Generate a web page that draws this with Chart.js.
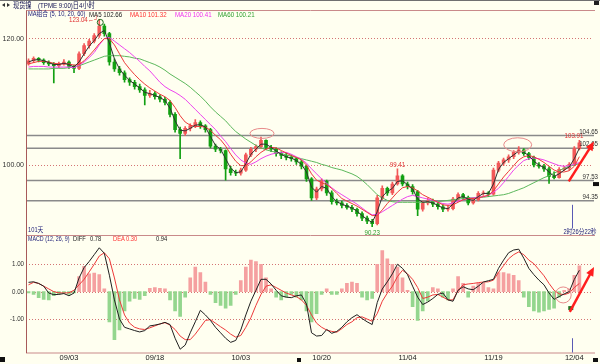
<!DOCTYPE html>
<html>
<head>
<meta charset="utf-8">
<script src="https://cdn.jsdelivr.net/npm/chart.js@4.4.0/dist/chart.umd.min.js"></script>
<style>
html,body{margin:0;padding:0;background:#fffff0;}
canvas{display:block;}
</style>
</head>
<body>
<canvas id="myChart" width="600" height="364"></canvas>
<script>
// 4h candles, one slot per bar
var nSlots = 112;
var categories = [];
for (var k = 0; k < nSlots; k++) categories.push(String(k));

var tickIdx  = [8, 25, 42, 58, 75, 92, 108];
var tickText = ['09/03', '09/18', '10/03', '10/20', '11/04', '11/19', '12/04'];

var openP = [
 116.0,116.5,116.9,116.6,116.2,116.0,115.7,116.0,116.3,115.6,
 115.3,117.6,118.9,119.6,120.5,122.0,120.8,116.3,115.2,114.6,
 113.5,113.1,112.4,111.9,111.0,111.3,110.8,110.4,109.9,108.0,
 105.6,105.0,105.8,106.2,106.7,106.2,105.6,103.0,102.5,102.3,
 99.4,98.8,98.7,99.2,101.6,102.5,102.9,103.9,102.8,102.5,
 101.8,101.5,101.2,101.0,100.5,99.8,97.8,94.8,96.2,97.4,
 95.6,94.2,94.0,93.6,93.3,93.0,92.3,91.6,91.1,90.7,
 94.8,96.3,95.6,97.0,98.3,97.0,96.6,95.8,93.0,94.0,
 94.3,93.8,93.4,93.0,93.1,94.6,95.3,94.9,94.0,94.5,
 95.5,95.6,95.4,99.2,100.3,100.8,101.3,102.0,102.4,101.8,
 101.2,100.0,99.8,99.4,98.2,98.0,99.3,99.5,100.1,102.6];
var highP = [
 116.8,117.1,117.0,116.8,116.5,116.2,116.3,116.7,116.5,115.8,
 117.9,119.2,119.9,120.8,123.04,122.3,121.0,116.8,115.6,114.9,
 113.8,113.4,112.8,112.2,111.8,111.6,111.1,110.7,110.2,108.3,
 106.0,106.1,106.5,107.2,107.0,106.4,105.8,103.3,102.8,102.4,
 99.8,99.2,99.5,101.9,102.8,103.2,104.4,104.0,103.1,102.7,
 102.1,101.9,101.6,101.2,100.8,100.0,98.0,96.5,97.8,97.6,
 95.9,94.6,94.3,93.9,93.6,93.2,92.6,91.9,91.4,95.2,
 96.7,96.5,97.3,99.41,98.5,97.3,96.9,96.0,94.3,94.8,
 94.6,94.1,93.7,93.5,94.9,95.6,95.5,95.1,94.8,95.8,
 95.9,95.8,99.5,100.6,101.1,101.6,102.3,102.9,102.6,102.0,
 101.4,100.4,100.1,99.7,98.9,99.6,99.8,100.4,102.9,103.91];
var lowP = [
 115.8,116.2,116.3,115.9,115.7,113.0,115.4,115.8,115.3,114.6,
 115.1,117.3,118.5,119.3,120.2,120.4,115.8,114.8,114.2,113.1,
 112.6,112.0,111.5,109.5,110.7,110.4,110.0,109.5,107.6,105.2,
 101.0,104.7,105.4,105.9,105.8,105.2,102.7,102.1,101.9,97.6,
 98.4,98.3,98.4,99.0,101.3,102.1,102.6,102.5,102.1,101.4,
 101.0,100.8,100.6,100.1,99.4,97.4,94.4,94.5,95.9,95.2,
 93.8,93.7,93.2,93.0,92.6,91.9,91.2,90.7,90.23,90.5,
 94.5,95.2,95.3,96.8,96.7,96.2,95.4,92.0,92.7,93.7,
 93.4,93.0,92.6,92.7,92.9,94.3,94.5,93.7,93.8,94.3,
 95.2,95.0,95.2,98.9,99.9,100.4,101.0,101.7,101.5,100.9,
 99.7,99.5,99.0,97.1,97.8,97.9,99.1,99.2,99.9,102.4];
var closeP = [
 116.5,116.9,116.6,116.2,116.0,115.7,116.0,116.3,115.6,115.3,
 117.6,118.9,119.6,120.5,122.0,120.8,116.3,115.2,114.6,113.5,
 113.1,112.4,111.9,111.0,111.3,110.8,110.4,109.9,108.0,105.6,
 105.0,105.8,106.2,106.7,106.2,105.6,103.0,102.5,102.3,99.4,
 98.8,98.7,99.2,101.6,102.5,102.9,103.9,102.8,102.5,101.8,
 101.5,101.2,101.0,100.5,99.8,97.8,94.8,96.2,97.4,95.6,
 94.2,94.0,93.6,93.3,93.0,92.3,91.6,91.1,90.7,94.8,
 96.3,95.6,97.0,98.3,97.0,96.6,95.8,93.0,94.0,94.3,
 93.8,93.4,93.0,93.1,94.6,95.3,94.9,94.0,94.5,95.5,
 95.6,95.4,99.2,100.3,100.8,101.3,102.0,102.4,101.8,101.2,
 100.0,99.8,99.4,98.2,98.0,99.3,99.5,100.1,102.6,103.5];

var ma5 = [
 116.3,116.6,116.7,116.5,116.2,115.9,115.9,116.1,115.9,115.5,
 116.3,117.6,118.8,119.7,120.8,121.3,119.3,116.8,115.2,114.2,
 113.4,112.8,112.2,111.5,111.3,111.0,110.7,110.2,109.0,107.0,
 105.5,105.4,105.8,106.3,106.4,106.0,104.5,103.1,102.5,101.0,
 99.5,98.8,98.9,100.2,101.7,102.5,103.3,103.3,102.8,102.2,
 101.7,101.3,101.1,100.7,100.1,98.9,96.5,95.7,96.6,96.3,
 95.0,94.2,93.8,93.5,93.2,92.7,92.0,91.4,90.9,92.6,
 95.0,95.8,96.3,97.4,97.5,96.9,96.2,94.6,94.1,94.2,
 94.0,93.6,93.2,93.1,93.8,94.8,95.0,94.6,94.4,95.0,
 95.5,95.5,97.0,99.3,100.4,101.0,101.6,102.2,102.0,101.5,
 100.6,100.0,99.6,98.9,98.2,98.6,99.2,99.7,101.0,102.66];
var ma10 = [
 116.0,116.2,116.4,116.4,116.3,116.1,116.0,116.0,116.0,115.8,
 115.9,116.5,117.3,118.2,119.2,120.0,120.0,119.0,117.6,116.2,
 115.2,114.3,113.5,112.8,112.2,111.7,111.2,110.8,110.2,109.1,
 107.8,106.8,106.3,106.1,106.1,106.0,105.5,104.7,104.0,103.0,
 101.7,100.6,99.9,99.9,100.5,101.3,102.0,102.5,102.8,102.7,
 102.3,101.9,101.5,101.2,100.8,100.0,98.6,97.6,97.2,96.9,
 96.3,95.5,94.7,94.3,93.9,93.5,93.0,92.5,92.0,92.0,
 92.9,93.9,94.8,95.7,96.4,96.6,96.4,95.9,95.3,94.9,
 94.5,94.1,93.7,93.6,93.7,94.1,94.5,94.7,94.7,94.8,
 95.0,95.2,95.9,97.0,98.1,99.0,99.9,100.8,101.3,101.5,
 101.3,100.9,100.4,99.8,99.2,98.9,98.9,99.1,99.8,101.32];
var ma20 = [
 115.5,115.6,115.6,115.6,115.5,115.5,115.5,115.5,115.5,115.4,
 115.8,116.3,117.0,117.8,119.0,120.0,120.2,119.6,119.0,118.4,
 117.8,117.1,116.4,115.6,114.9,114.0,113.1,112.4,111.9,111.5,
 111.0,110.4,109.6,108.8,108.0,107.2,106.4,105.6,104.6,103.7,
 102.6,101.6,100.8,100.3,100.1,100.5,101.0,101.4,101.7,101.9,
 102.0,102.0,101.7,101.3,100.9,100.3,99.4,98.6,97.8,97.1,
 96.4,95.8,95.3,94.8,94.3,93.8,93.2,92.6,92.1,92.2,
 92.6,93.1,93.6,94.1,94.6,95.0,95.2,95.0,94.8,94.6,
 94.4,94.1,93.9,93.8,94.0,94.3,94.5,94.7,94.8,94.9,
 95.0,95.2,95.7,96.3,97.2,98.2,99.2,100.0,100.7,101.0,
 101.1,101.0,100.8,100.5,100.2,99.9,99.8,99.9,100.1,100.41];
var ma60 = [
 115.2,115.2,115.2,115.2,115.2,115.3,115.3,115.3,115.4,115.5,
 115.7,116.0,116.3,116.6,116.9,117.2,117.3,117.3,117.3,117.2,
 117.1,116.9,116.8,116.5,116.2,115.9,115.5,115.0,114.4,113.9,
 113.4,112.9,112.3,111.6,110.9,110.1,109.2,108.4,107.7,107.0,
 106.1,105.3,104.7,104.1,103.6,103.1,102.7,102.4,102.2,102.0,
 101.8,101.6,101.4,101.2,101.0,100.8,100.6,100.4,100.1,99.9,
 99.6,99.4,99.2,98.9,98.6,98.2,97.6,96.9,96.1,95.3,
 94.8,94.4,94.2,94.1,94.1,94.1,94.1,94.1,94.1,94.1,
 94.2,94.2,94.3,94.4,94.5,94.6,94.7,94.8,94.8,94.9,
 94.9,95.0,95.1,95.2,95.3,95.5,95.8,96.1,96.4,96.8,
 97.2,97.6,98.0,98.3,98.7,99.1,99.5,99.8,100.0,100.21];

var diff = [
 0.34,0.36,0.30,0.20,-0.05,-0.11,-0.10,-0.07,-0.15,-0.05,
 0.50,0.88,1.10,1.35,1.60,1.40,0.60,-0.30,-1.00,-1.30,
 -1.36,-1.42,-1.47,-1.42,-1.25,-1.22,-1.18,-1.12,-1.20,-1.70,
 -2.10,-1.95,-1.50,-1.10,-0.68,-0.85,-1.05,-1.30,-1.50,-1.70,
 -1.85,-1.78,-1.40,-0.85,-0.35,0.05,0.45,0.45,0.28,0.05,
 -0.15,-0.20,-0.22,-0.15,-0.12,-0.45,-1.50,-1.62,-1.60,-1.38,
 -1.52,-1.45,-1.30,-1.10,-0.95,-0.84,-0.98,-1.10,-1.20,-0.40,
 0.10,0.36,0.65,1.00,0.85,0.62,0.20,-0.20,-0.47,-0.38,
 -0.25,-0.10,-0.05,-0.30,-0.35,0.05,0.18,0.10,0.07,0.20,
 0.35,0.40,0.45,0.85,1.15,1.42,1.52,1.55,1.22,0.85,
 0.62,0.42,0.25,-0.05,-0.28,-0.18,-0.08,0.00,0.45,0.78];
var dea = [
 0.25,0.34,0.30,0.20,0.10,0.00,-0.04,-0.05,-0.04,0.05,
 0.25,0.45,0.72,1.00,1.30,1.42,1.20,0.50,-0.30,-0.85,
 -1.15,-1.30,-1.36,-1.38,-1.32,-1.25,-1.18,-1.13,-1.22,-1.38,
 -1.62,-1.75,-1.75,-1.55,-1.30,-1.05,-1.02,-1.15,-1.28,-1.40,
 -1.55,-1.66,-1.60,-1.30,-0.95,-0.50,-0.10,0.20,0.25,0.15,
 0.05,-0.05,-0.12,-0.18,-0.30,-0.50,-0.85,-1.15,-1.30,-1.40,
 -1.45,-1.48,-1.35,-1.20,-1.10,-0.95,-0.92,-1.00,-1.08,-0.80,
 -0.35,-0.05,0.20,0.55,0.78,0.65,0.45,0.15,-0.25,-0.20,
 -0.12,-0.10,-0.20,-0.30,-0.30,0.05,0.25,0.28,0.30,0.33,
 0.35,0.36,0.42,0.70,0.95,1.20,1.35,1.45,1.35,1.15,
 1.02,0.80,0.58,0.30,0.05,-0.08,-0.11,-0.05,0.15,0.30];
var macdHist = [
 -0.05,-0.10,-0.22,-0.28,-0.30,-0.15,-0.08,-0.05,-0.10,-0.05,
 0.55,0.92,0.65,0.68,0.62,0.10,-1.10,-1.75,-1.40,-0.70,
 -0.35,-0.25,-0.28,-0.15,0.12,0.15,0.12,0.10,-0.30,-0.70,
 -0.90,-0.20,0.50,0.90,0.70,0.35,-0.10,-0.40,-0.50,-0.60,
 -0.50,-0.10,0.40,0.90,1.15,1.10,1.00,0.50,0.10,-0.20,
 -0.30,-0.20,-0.10,-0.20,-0.30,-0.70,-1.10,-0.80,-0.10,0.10,
 -0.10,-0.10,0.10,0.30,0.35,0.30,-0.20,-0.30,-0.25,1.00,
 1.50,1.20,1.00,0.90,0.50,0.05,-0.55,-1.05,-0.70,-0.35,
 0.15,0.10,-0.20,-0.30,0.10,0.55,0.30,-0.20,0.20,0.30,
 0.30,0.15,0.10,0.70,0.70,0.65,0.60,0.40,-0.20,-0.55,
 -0.70,-0.75,-0.70,-0.65,-0.60,-0.20,0.05,0.10,0.60,0.94];

var priceTicks = [120, 100];
var macdTicks = [1, 0, -1];
var levels = [104.65, 102.65, 97.53, 94.35];

var FONT = '"Liberation Sans", "Noto Sans CJK SC", sans-serif';
var UP = '#f25858', DOWN = '#12a012';

var wicks = [], bodies = [], candleColors = [];
for (var i = 0; i < closeP.length; i++) {
    wicks.push([lowP[i], highP[i]]);
    bodies.push([openP[i], closeP[i]]);
    candleColors.push(closeP[i] >= openP[i] ? UP : DOWN);
}
var histColors = macdHist.map(function (v) { return v >= 0 ? '#f5a0a0' : '#94d68e'; });

// text squeezed horizontally, the original uses a narrow bitmap font
function txt(c, s, x, y, color, align, size) {
    c.save();
    c.font = (size || 7) + 'px ' + FONT;
    c.fillStyle = color;
    c.textAlign = align || 'left';
    c.textBaseline = 'middle';
    c.translate(x, y);
    c.scale(0.82, 1);
    c.fillText(s, 0, 0);
    c.restore();
}
function seg(c, x1, y1, x2, y2) {
    c.beginPath(); c.moveTo(x1, y1); c.lineTo(x2, y2); c.stroke();
}
function arrow(c, x1, y1, x2, y2) {
    var ang = Math.atan2(y2 - y1, x2 - x1);
    c.strokeStyle = '#ff1e1e'; c.fillStyle = '#ff1e1e'; c.lineWidth = 2.5;
    seg(c, x1, y1, x2 - 6 * Math.cos(ang), y2 - 6 * Math.sin(ang));
    c.beginPath();
    c.moveTo(x2, y2);
    c.lineTo(x2 - 9 * Math.cos(ang) + 4 * Math.sin(ang), y2 - 9 * Math.sin(ang) - 4 * Math.cos(ang));
    c.lineTo(x2 - 9 * Math.cos(ang) - 4 * Math.sin(ang), y2 - 9 * Math.sin(ang) + 4 * Math.cos(ang));
    c.closePath(); c.fill();
}

var SPLIT_Y = 235.5;

var overlay = {
    id: 'overlay',
    beforeDraw: function (chart) {
        var c = chart.ctx;
        c.save();
        c.fillStyle = '#fffff0';
        c.fillRect(0, 0, chart.width, chart.height);
        c.restore();
    },
    beforeDatasetsDraw: function (chart) {
        var c = chart.ctx, a = chart.chartArea, yP = chart.scales.y, yM = chart.scales.yM;
        c.save();
        c.strokeStyle = '#8a8a8a'; c.lineWidth = 1.5;
        levels.forEach(function (v) {
            var y = yP.getPixelForValue(v);
            seg(c, a.left, y, a.right + 2, y);
        });
        c.strokeStyle = '#d47474'; c.lineWidth = 1; c.setLineDash([1, 2]);
        macdTicks.forEach(function (v) {
            var y = Math.round(yM.getPixelForValue(v)) + 0.5;
            seg(c, a.left, y, a.right, y);
        });
        c.setLineDash([]);
        macdTicks.forEach(function (v) {
            txt(c, v.toFixed(2), 24, yM.getPixelForValue(v), '#303030', 'right', 7.5);
        });
        c.restore();
    },
    afterDatasetsDraw: function (chart) {
        var c = chart.ctx, a = chart.chartArea, x = chart.scales.x, yP = chart.scales.y, yM = chart.scales.yM;
        c.save();
        // frame
        c.lineWidth = 1;
        c.strokeStyle = '#707070'; seg(c, 0, 0.5, 600, 0.5);
        c.strokeStyle = '#c98a8a';
        seg(c, a.left, 10.5, 595, 10.5);
        seg(c, a.left, SPLIT_Y, 595, SPLIT_Y);
        seg(c, a.left, a.bottom + 0.5, 595, a.bottom + 0.5);
        c.strokeStyle = '#a85a5a';
        seg(c, a.left + 0.5, 10.5, a.left + 0.5, a.bottom + 0.5);

        // title bar
        c.fillStyle = '#303030';
        c.beginPath(); c.moveTo(2, 5); c.lineTo(5, 3); c.lineTo(5, 7); c.closePath(); c.fill();
        c.beginPath(); c.moveTo(10, 5); c.lineTo(7, 3); c.lineTo(7, 7); c.closePath(); c.fill();
        txt(c, '现货镍', 13, 5.5, '#101050', 'left', 7.5);
        txt(c, '(TPME 9:00)日4小时', 38, 5.5, '#101050', 'left', 7.5);
        c.fillStyle = '#202020'; c.fillRect(594, 1, 5, 4);

        // MA legend
        txt(c, 'MA组合 (5, 10, 20, 60)', 28, 14.5, '#23237a', 'left', 7);
        txt(c, 'MA5 102.66', 89, 14.5, '#202020', 'left', 7.5);
        txt(c, 'MA10 101.32', 130, 14.5, '#ff3030', 'left', 7.5);
        txt(c, 'MA20 100.41', 175, 14.5, '#f030f0', 'left', 7.5);
        txt(c, 'MA60 100.21', 218, 14.5, '#30a030', 'left', 7.5);

        // extreme marks
        var pk = 14;
        txt(c, '123.04\u2190\u2518', x.getPixelForValue(pk) - 1, yP.getPixelForValue(highP[pk]) + 1, '#e03030', 'right', 7.5);
        c.strokeStyle = '#1a6a1a'; c.lineWidth = 1;
        c.beginPath(); c.arc(x.getPixelForValue(pk) + 1, yP.getPixelForValue(highP[pk]) + 3, 3, 0, Math.PI * 2); c.stroke();
        txt(c, '90.23', x.getPixelForValue(68), yP.getPixelForValue(lowP[68]) + 6, '#2a9a2a', 'center', 7.5);
        txt(c, '99.41', x.getPixelForValue(73), yP.getPixelForValue(highP[73]) - 4, '#e03030', 'center', 7.5);
        txt(c, '103.91', x.getPixelForValue(109) + 4, yP.getPixelForValue(highP[109]) - 4, '#e03030', 'right', 7.5);

        // level labels
        levels.forEach(function (v) {
            txt(c, v.toFixed(2), 598, yP.getPixelForValue(v) - 4, '#303030', 'right', 7.5);
        });
        c.fillStyle = '#101010'; c.fillRect(593, yP.getPixelForValue(97.3), 6, 4);

        // ellipses
        c.strokeStyle = '#e88a8a'; c.lineWidth = 1;
        c.beginPath(); c.ellipse(x.getPixelForValue(46.2), yP.getPixelForValue(105.0), 12, 5, 0, 0, Math.PI * 2); c.stroke();
        c.beginPath(); c.ellipse(x.getPixelForValue(96.8), yP.getPixelForValue(103.2), 14, 7, 0, 0, Math.PI * 2); c.stroke();
        c.beginPath(); c.arc(x.getPixelForValue(105.8), yM.getPixelForValue(-0.12), 8, 0, Math.PI * 2); c.stroke();
        c.fillStyle = '#207020'; c.fillRect(x.getPixelForValue(107.2) - 2, yM.getPixelForValue(-0.6) - 2, 5, 4);

        // arrows
        arrow(c, x.getPixelForValue(106.9), yP.getPixelForValue(97.4), x.getPixelForValue(111.9), yP.getPixelForValue(103.7));
        arrow(c, x.getPixelForValue(107.1), yM.getPixelForValue(-0.74), x.getPixelForValue(111.9), yM.getPixelForValue(0.9));

        // cursor
        var cx = Math.round(x.getPixelForValue(107.6)) + 0.5;
        c.strokeStyle = '#5a5ab4'; c.lineWidth = 1;
        seg(c, cx, yP.getPixelForValue(93.7), cx, SPLIT_Y - 7);
        seg(c, cx, yM.getPixelForValue(-1.7), cx, a.bottom);
        txt(c, '2时26分22秒', 580, SPLIT_Y - 3, '#23237a', 'center', 7);

        // panel captions
        txt(c, '101天', 28, SPLIT_Y - 5, '#23237a', 'left', 7);
        txt(c, 'MACD (12, 26, 9)', 28, SPLIT_Y + 4, '#23237a', 'left', 6.5);
        txt(c, 'DIFF', 73, SPLIT_Y + 4, '#202020', 'left', 7);
        txt(c, '0.78', 90, SPLIT_Y + 4, '#202020', 'left', 7);
        txt(c, 'DEA', 113, SPLIT_Y + 4, '#ff3030', 'left', 7);
        txt(c, '0.30', 126, SPLIT_Y + 4, '#ff3030', 'left', 7);
        txt(c, '0.94', 156, SPLIT_Y + 4, '#202020', 'left', 7);

        // scroll markers
        c.fillStyle = '#101010';
        c.fillRect(0, 357, 5, 5);
        c.fillRect(297, 358, 4, 4);
        c.fillRect(593, 358, 5, 4);
        c.restore();
    }
};

var ctx = document.getElementById('myChart').getContext('2d');

var mychart = new Chart(ctx, {
    type: 'bar',
    data: {
        labels: categories,
        datasets: [
            { type: 'line', data: ma5, borderColor: '#303030', borderWidth: 1, pointRadius: 0, order: 1 },
            { type: 'line', data: ma10, borderColor: '#ee3a3a', borderWidth: 1, pointRadius: 0, order: 2 },
            { type: 'line', data: ma20, borderColor: '#ee44ee', borderWidth: 1, pointRadius: 0, order: 3 },
            { type: 'line', data: ma60, borderColor: '#5cb85c', borderWidth: 1, pointRadius: 0, order: 4 },
            { data: bodies, backgroundColor: candleColors, barThickness: 3, grouped: false, order: 8 },
            { data: wicks, backgroundColor: candleColors, barThickness: 1, grouped: false, order: 9 },
            { type: 'line', yAxisID: 'yM', data: diff, borderColor: '#202020', borderWidth: 1, pointRadius: 0, order: 1 },
            { type: 'line', yAxisID: 'yM', data: dea, borderColor: '#ee3a3a', borderWidth: 1, pointRadius: 0, order: 2 },
            { yAxisID: 'yM', data: macdHist, backgroundColor: histColors, barThickness: 3, grouped: false, order: 10 }
        ]
    },
    options: {
        responsive: false,
        animation: false,
        layout: { padding: { top: 11, right: 8, left: 0, bottom: 0 } },
        plugins: { legend: { display: false }, tooltip: { enabled: false } },
        scales: {
            x: {
                type: 'category',
                offset: true,
                grid: { display: false, drawTicks: false },
                border: { display: false },
                ticks: {
                    autoSkip: false, maxRotation: 0, padding: 1, color: '#202020',
                    font: { size: 7.5, family: FONT },
                    callback: function (v, idx) {
                        var p = tickIdx.indexOf(idx);
                        return p >= 0 ? tickText[p] : '';
                    }
                },
                afterFit: function (s) { s.height = 11.5; }
            },
            y: {
                position: 'left',
                min: 70.33,
                max: 124.37,
                afterBuildTicks: function (s) { s.ticks = priceTicks.map(function (v) { return { value: v }; }); },
                afterFit: function (s) { s.width = 26; },
                grid: { color: '#d47474', drawTicks: false },
                border: { display: false, dash: [1, 2] },
                ticks: {
                    padding: 2, color: '#303030', font: { size: 7, family: FONT },
                    callback: function (v) { return Number(v).toFixed(2); }
                }
            },
            yM: { display: false, min: -2.22, max: 10.24 }
        }
    },
    plugins: [overlay]
});
</script>
</body>
</html>
